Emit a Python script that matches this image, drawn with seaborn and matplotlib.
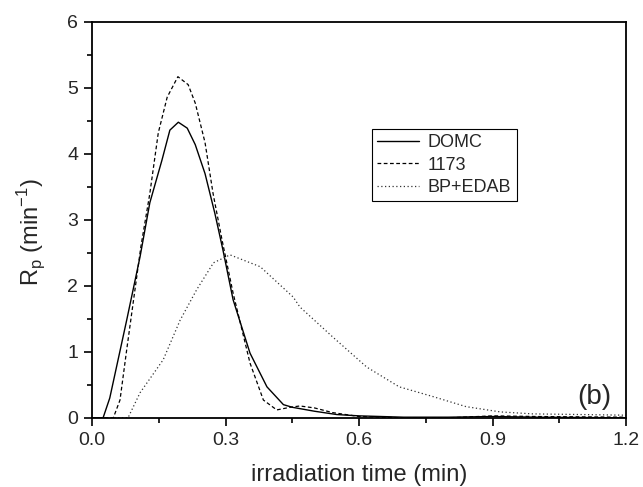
import numpy as np
import pandas as pd
import matplotlib
matplotlib.use('Agg')
import matplotlib.pyplot as plt
from matplotlib.ticker import MultipleLocator
import seaborn as sns

# kinetic curves
domc_t = [0.0, 0.025, 0.04, 0.078, 0.108, 0.13, 0.157, 0.175, 0.194, 0.214, 0.232, 0.254,
          0.276, 0.294, 0.317, 0.355, 0.393, 0.43, 0.45, 0.5, 0.55, 0.6, 0.7, 0.8, 0.9, 1.0, 1.2]
domc_rp = [0.0, 0.0, 0.3, 1.48, 2.44, 3.26, 3.9, 4.36, 4.48, 4.39, 4.14, 3.7,
           3.1, 2.55, 1.79, 0.98, 0.47, 0.2, 0.16, 0.1, 0.05, 0.03, 0.01, 0.01, 0.02, 0.01, 0.0]

s1173_t = [0.0, 0.048, 0.063, 0.078, 0.11, 0.13, 0.149, 0.169, 0.193, 0.216, 0.232, 0.254,
           0.272, 0.292, 0.317, 0.355, 0.385, 0.415, 0.445, 0.467, 0.5, 0.54, 0.6, 0.7,
           0.8, 0.9, 1.0, 1.2]
s1173_rp = [0.0, 0.0, 0.27, 1.03, 2.6, 3.4, 4.32, 4.86, 5.17, 5.05, 4.77, 4.17,
            3.4, 2.7, 1.89, 0.83, 0.27, 0.12, 0.16, 0.18, 0.15, 0.08, 0.02, 0.0,
            0.0, 0.03, 0.02, 0.01]

bp_t = [0.0, 0.081, 0.108, 0.16, 0.198, 0.235, 0.273, 0.31, 0.378, 0.452, 0.467,
        0.54, 0.617, 0.69, 0.767, 0.84, 0.917, 0.99, 1.1, 1.2]
bp_rp = [0.0, 0.0, 0.38, 0.88, 1.48, 1.94, 2.35, 2.47, 2.29, 1.83, 1.68,
         1.23, 0.77, 0.47, 0.32, 0.17, 0.09, 0.06, 0.05, 0.04]

sns.set_style('ticks')
plt.rcParams['font.family'] = ['Liberation Sans', 'DejaVu Sans']

fig = plt.figure(figsize=(6.43, 4.87), dpi=100)
ax = fig.add_axes([0.143, 0.142, 0.831, 0.813])

sns.lineplot(x=domc_t, y=domc_rp, color='black', linewidth=1.0, ax=ax, label='DOMC')
sns.lineplot(x=s1173_t, y=s1173_rp, color='black', linewidth=0.9, linestyle=(0, (3, 2)), ax=ax, label='1173')
sns.lineplot(x=bp_t, y=bp_rp, color='#333333', linewidth=0.9, linestyle=(0, (1, 2)), ax=ax, label='BP+EDAB')

ax.set_xlim(0, 1.2)
ax.set_ylim(0, 6)
ax.xaxis.set_major_locator(MultipleLocator(0.3))
ax.xaxis.set_minor_locator(MultipleLocator(0.15))
ax.yaxis.set_major_locator(MultipleLocator(1))
ax.yaxis.set_minor_locator(MultipleLocator(0.5))
ax.set_xticklabels([f'{v:.1f}' for v in ax.get_xticks()])
ax.tick_params(which='major', direction='out', length=6, width=1.2, labelsize=14, color='black', pad=4)
ax.tick_params(which='minor', direction='out', length=3.5, width=1.2, color='black')
for sp in ax.spines.values():
    sp.set_linewidth(1.3)
    sp.set_color('black')

ax.set_xlabel('irradiation time (min)', fontsize=17, labelpad=11)
ax.set_ylabel(r'R$_\mathregular{p}$ (min$^\mathregular{-1}$)', fontsize=17)
ax.yaxis.set_label_coords(-0.082, 0.47)

leg = ax.legend(loc='upper left', bbox_to_anchor=(0.524, 0.73), fontsize=13,
                frameon=True, fancybox=False, edgecolor='black', framealpha=1,
                handlelength=2.3, handletextpad=0.5, borderpad=0.3, labelspacing=0.3,
                borderaxespad=0)
leg.get_frame().set_linewidth(0.8)

ax.text(0.94, 0.053, '(b)', transform=ax.transAxes, fontsize=20, ha='center', va='center')

fig.savefig('out.png', dpi=100)
